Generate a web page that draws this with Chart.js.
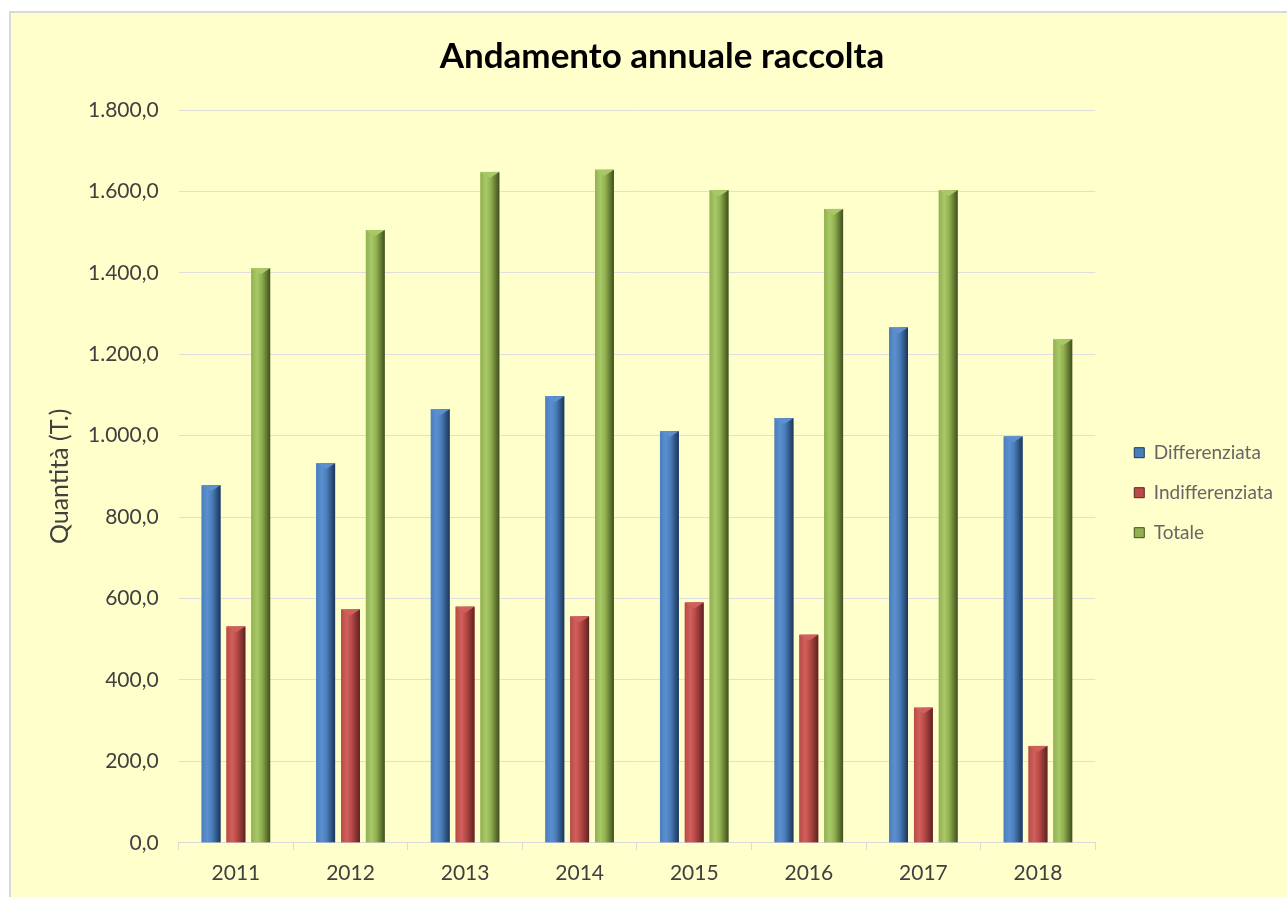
<!DOCTYPE html>
<html>
<head>
<meta charset="utf-8">
<script src="https://cdn.jsdelivr.net/npm/chart.js@4"></script>
<style>
  html, body { margin: 0; padding: 0; background: #fff; }
  #wrap { position: absolute; left: 0; top: 0; width: 1287px; height: 897px; }
</style>
</head>
<body>
<div id="wrap"><canvas id="myChart" width="1287" height="897"></canvas></div>
<script>
const years = ['2011', '2012', '2013', '2014', '2015', '2016', '2017', '2018'];
const differenziata = [878, 932, 1065, 1097, 1011, 1043, 1266, 998];
const indifferenziata = [531, 573, 580, 556, 590, 511, 332, 238];
const totale = [1411, 1505, 1648, 1653, 1603, 1557, 1603, 1237];

// colours: [light, base, dark]
const shades = [
  ['#5b8fd0', '#4a7ebb', '#1c3557'],
  ['#d0605c', '#b94a47', '#5e2221'],
  ['#a9c868', '#91b04f', '#3f4f1e']
];

function fmt(v) {
  const s = Math.round(v).toString().replace(/\B(?=(\d{3})+(?!\d))/g, '.');
  return s + ',0';
}

// frame and background
const framePlugin = {
  id: 'frame',
  beforeDraw(chart) {
    const c = chart.ctx;
    c.save();
    c.fillStyle = '#ffffff';
    c.fillRect(0, 0, chart.width, chart.height);
    c.fillStyle = '#ffffcc';
    c.fillRect(10, 12, chart.width - 10, chart.height - 12);
    c.strokeStyle = '#d9d9d9';
    c.lineWidth = 2;
    c.strokeRect(10, 12, chart.width + 10, chart.height + 10);
    c.restore();
  }
};

// empty box between plot and legend, to leave a gap like the original
const spacerPlugin = {
  id: 'spacer',
  beforeInit(chart) {
    Chart.layouts.addBox(chart, {
      position: 'right',
      weight: 0,
      fullSize: false,
      options: {},
      width: 0, height: 0, left: 0, top: 0, right: 0, bottom: 0,
      isHorizontal() { return false; },
      getPadding() { return { left: 0, right: 0, top: 0, bottom: 0 }; },
      update(maxWidth, maxHeight) { this.width = 18; this.height = maxHeight; },
      draw() {}
    });
  }
};

// shaded bars with a small bevel on top
const shadePlugin = {
  id: 'shade',
  afterDatasetsDraw(chart) {
    const c = chart.ctx;
    chart.data.datasets.forEach((ds, i) => {
      const meta = chart.getDatasetMeta(i);
      const sh = shades[i];
      meta.data.forEach(bar => {
        const w = bar.width;
        const l = bar.x - w / 2;
        const top = bar.y;
        const h = bar.base - bar.y;
        const g = c.createLinearGradient(l, 0, l + w, 0);
        g.addColorStop(0, sh[1]);
        g.addColorStop(0.3, sh[0]);
        g.addColorStop(0.55, sh[1]);
        g.addColorStop(1, sh[2]);
        c.save();
        c.fillStyle = g;
        c.fillRect(l, top, w, h);
        // bevel
        c.beginPath();
        c.moveTo(l, top);
        c.lineTo(l + w, top);
        c.lineTo(bar.x, top + 6);
        c.closePath();
        c.fillStyle = sh[0];
        c.fill();
        c.restore();
      });
    });
  }
};

new Chart(document.getElementById('myChart'), {
  type: 'bar',
  data: {
    labels: years,
    datasets: [
      { label: 'Differenziata', data: differenziata, backgroundColor: shades[0][1] },
      { label: 'Indifferenziata', data: indifferenziata, backgroundColor: shades[1][1] },
      { label: 'Totale', data: totale, backgroundColor: shades[2][1] }
    ]
  },
  options: {
    responsive: false,
    animation: false,
    devicePixelRatio: 1,
    categoryPercentage: 0.65,
    barPercentage: 0.76,
    layout: { padding: { left: 41, right: 4, top: 36, bottom: 0 } },
    plugins: {
      title: {
        display: true,
        text: 'Andamento annuale raccolta',
        color: '#000',
        font: { family: 'Lato', size: 35, weight: 'bold' },
        padding: { top: 0, bottom: 32 }
      },
      legend: {
        position: 'right',
        title: { display: true, text: '', font: { size: 12 }, padding: { top: 38, bottom: 0 } },
        labels: {
          color: '#404040',
          font: { family: 'Lato', size: 19 },
          boxWidth: 10,
          boxHeight: 10,
          padding: 21,
          generateLabels(chart) {
            return chart.data.datasets.map((ds, i) => ({
              text: ds.label,
              fillStyle: shades[i][1],
              strokeStyle: shades[i][2],
              lineWidth: 1,
              datasetIndex: i
            }));
          }
        }
      },
      tooltip: { enabled: false }
    },
    scales: {
      x: {
        grid: { display: true, drawOnChartArea: false, color: '#d9d9d9', tickLength: 7, offset: true },
        border: { color: '#d9d9d9' },
        ticks: { color: '#404040', font: { family: 'Lato', size: 21 }, padding: 11 }
      },
      y: {
        min: 0,
        max: 1800,
        ticks: { stepSize: 200, color: '#404040', font: { family: 'Lato', size: 21 }, padding: 20, callback: v => fmt(v) },
        grid: { color: '#dedede', drawTicks: false },
        border: { display: false },
        title: { display: true, text: 'Quantità (T.)', color: '#404040', font: { family: 'Lato', size: 25 }, padding: { top: 4, bottom: -7 } }
      }
    }
  },
  plugins: [framePlugin, spacerPlugin, shadePlugin]
});
</script>
</body>
</html>
